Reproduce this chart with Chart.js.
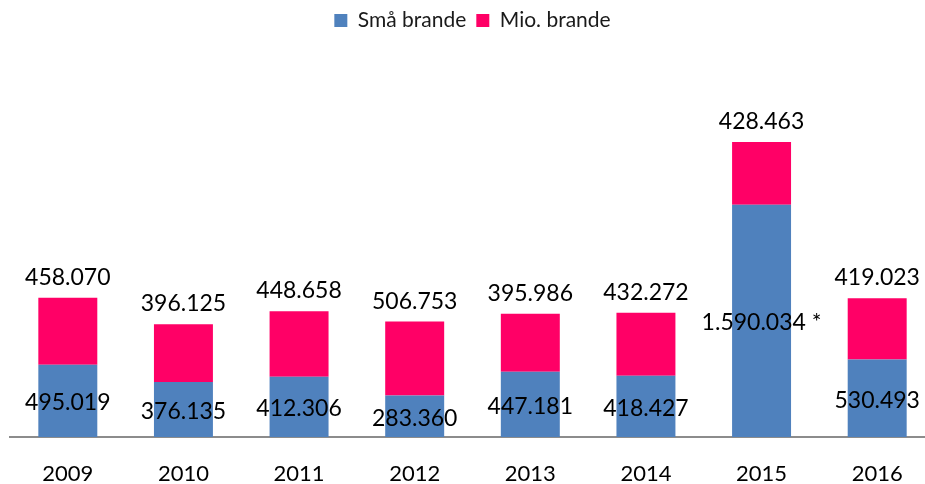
<!DOCTYPE html>
<html>
<head>
<meta charset="utf-8">
<script src="https://cdn.jsdelivr.net/npm/chart.js@4"></script>
<style>
  html, body { margin: 0; padding: 0; background: #fff; overflow: hidden; }
  #wrap { width: 935px; height: 484px; position: relative; }
</style>
</head>
<body>
<div id="wrap"><canvas id="myChart"></canvas></div>
<script>
const years = ['2009', '2010', '2011', '2012', '2013', '2014', '2015', '2016'];
const smallFires = [495019, 376135, 412306, 283360, 447181, 418427, 1590034, 530493];
const millionFires = [458070, 396125, 448658, 506753, 395986, 432272, 428463, 419023];
const smallNotes = ['', '', '', '', '', '', ' *', ''];
const seriesNames = ['Små brande', 'Mio. brande'];

function formatDk(n) {
  return String(n).replace(/\B(?=(\d{3})+(?!\d))/g, '.');
}

const labelFont = '23px Lato';

const valueLabels = {
  id: 'valueLabels',
  afterDatasetsDraw(chart) {
    const ctx = chart.ctx;
    ctx.save();
    ctx.font = labelFont;
    ctx.fillStyle = '#000';
    ctx.textAlign = 'center';

    // blue values in the middle of their segment
    const blue = chart.getDatasetMeta(0);
    blue.data.forEach((bar, i) => {
      ctx.textBaseline = 'middle';
      ctx.fillText(formatDk(smallFires[i]) + smallNotes[i], bar.x, (bar.y + bar.base) / 2 + 2);
    });

    // pink values above the bar
    const pink = chart.getDatasetMeta(1);
    pink.data.forEach((bar, i) => {
      ctx.textBaseline = 'alphabetic';
      ctx.fillText(formatDk(millionFires[i]), bar.x, bar.y - 13);
    });
    ctx.restore();
  }
};

const ctx = document.getElementById('myChart').getContext('2d');
const myChart = new Chart(ctx, {
  type: 'bar',
  data: {
    labels: years,
    datasets: [
      {
        label: seriesNames[0],
        data: smallFires,
        backgroundColor: '#4F81BD',
        borderWidth: 0
      },
      {
        label: seriesNames[1],
        data: millionFires,
        backgroundColor: '#FF0066',
        borderWidth: 0
      }
    ]
  },
  options: {
    maintainAspectRatio: false,
    responsive: true,
    animation: false,
    layout: {
      padding: { left: 10, right: 0, top: 0, bottom: 0 }
    },
    datasets: {
      bar: {
        categoryPercentage: 1,
        barPercentage: 0.51
      }
    },
    plugins: {
      legend: {
        display: true,
        position: 'top',
        labels: {
          color: '#1a1a1a',
          boxWidth: 13,
          boxHeight: 13,
          padding: 10,
          font: { family: 'Lato', size: 21 }
        }
      },
      tooltip: { enabled: false }
    },
    scales: {
      x: {
        stacked: true,
        display: true,
        position: 'bottom',
        grid: { display: false, drawTicks: false },
        border: { color: '#8c8c8c', width: 2 },
        ticks: {
          color: '#000',
          padding: 24,
          font: { family: 'Lato', size: 22 }
        },
        afterFit(scale) {
          scale.height = 47;
        }
      },
      y: {
        stacked: true,
        display: false,
        min: 0,
        max: 2710000
      }
    }
  },
  plugins: [valueLabels]
});
</script>
</body>
</html>
